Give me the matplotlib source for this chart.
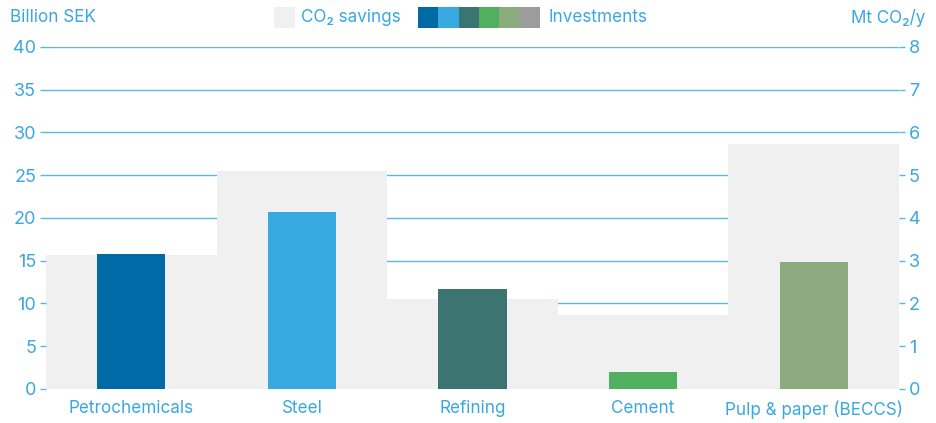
import matplotlib
matplotlib.use("Agg")
import matplotlib.pyplot as plt
from matplotlib.patches import Rectangle

plt.rcParams['font.family'] = ['Inter', 'DejaVu Sans']

# data
sectors = ["Petrochemicals", "Steel", "Refining", "Cement", "Pulp & paper (BECCS)"]
investments = [15.8, 20.7, 11.7, 2.0, 14.8]          # Billion SEK (left axis)
co2_savings = [3.13, 5.1, 2.1, 1.72, 5.73]           # Mt CO2/y (right axis)
bar_colors = ["#006aa6", "#37a9e0", "#3c7472", "#51b060", "#8bab7e"]
legend_colors = ["#006aa6", "#37a9e0", "#3c7472", "#51b060", "#8bab7e", "#9c9c9c"]
left_ticks = [0, 5, 10, 15, 20, 25, 30, 35, 40]
right_ticks = [0, 1, 2, 3, 4, 5, 6, 7, 8]

BLUE = "#3aa8e0"
GRID = "#5ab8e8"
GREY = "#f0f0f0"
FS = 12.3

fig = plt.figure(figsize=(9.36, 4.23), dpi=100)
ax_r = fig.add_axes([0.0491, 0.0804, 0.9114, 0.8085])
ax_l = ax_r.twinx()
ax_l.yaxis.tick_left()
ax_r.yaxis.tick_right()
ax_l.set_zorder(ax_r.get_zorder() + 1)
ax_l.patch.set_visible(False)

x = list(range(len(sectors)))

# CO2 savings as full-width grey blocks, behind investments
ax_r.bar(x, co2_savings, width=1.0, color=GREY, zorder=2)
ax_r.set_ylim(0, 8)
ax_r.set_yticks(right_ticks)
ax_r.set_axisbelow(True)
ax_r.grid(axis="y", color=GRID, linewidth=1.0, zorder=0)

ax_l.bar(x, investments, width=0.4, color=bar_colors, zorder=3)
ax_l.set_ylim(0, 40)
ax_l.set_yticks(left_ticks)

for a in (ax_r, ax_l):
    a.set_xlim(-0.5, len(sectors) - 0.5)
    for s in a.spines.values():
        s.set_visible(False)
    a.tick_params(axis="y", colors=GRID, labelcolor=BLUE, length=4, width=1,
                  labelsize=13, pad=3)

ax_r.set_xticks(x)
ax_r.set_xticklabels(sectors)
ax_r.tick_params(axis="x", length=0, labelcolor=BLUE, labelsize=FS, pad=8)
ax_l.tick_params(axis="x", length=0, labelbottom=False)

# header: axis titles and legend
fig.text(10 / 936, 1 - 18 / 423, "Billion SEK", color=BLUE, fontsize=FS, va="center", ha="left")
fig.text(925 / 936, 1 - 18 / 423, "Mt CO\u2082/y", color=BLUE, fontsize=FS, va="center", ha="right")

sq_h = 21 / 423
sq_y = 1 - 28 / 423
fig.add_artist(Rectangle((274 / 936, sq_y), 21 / 936, sq_h, transform=fig.transFigure,
                         color=GREY, lw=0))
fig.text(301 / 936, 1 - 18 / 423, "CO\u2082 savings", color=BLUE, fontsize=FS, va="center")
for i, c in enumerate(legend_colors):
    fig.add_artist(Rectangle(((418 + i * 20.3) / 936, sq_y), 20.5 / 936, sq_h,
                             transform=fig.transFigure, color=c, lw=0))
fig.text(548 / 936, 1 - 18 / 423, "Investments", color=BLUE, fontsize=FS, va="center")

fig.savefig("out.png", dpi=100)
